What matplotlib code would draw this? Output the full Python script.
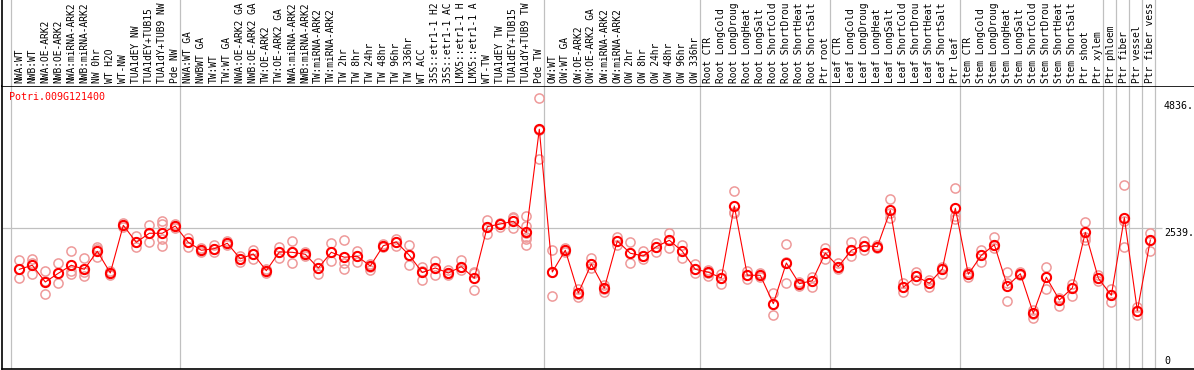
import matplotlib
matplotlib.use("Agg")
from matplotlib import pyplot as plt
import matplotlib.transforms as mtransforms

# sample labels, in plot order
labels = ["NWA:WT", "NWB:WT", "NWA:OE-ARK2", "NWB:OE-ARK2", "NWA:miRNA-ARK2", "NWB:miRNA-ARK2",
          "NW 0hr", "WT H2O", "WT-NW", "TUA1dEY NW", "TUA1dEY+TUB15 NW", "TUA1dY+TUB9 NW", "Pde NW",
          "NWA:WT GA", "NWBWT GA", "TW:WT", "TW:WT GA", "NWA:OE-ARK2 GA", "NWB:OE-ARK2 GA",
          "TW:OE-ARK2", "TW:OE-ARK2 GA", "NWA:miRNA-ARK2 GA", "NWB:miRNA-ARK2 GA", "TW:miRNA-ARK2",
          "TW:miRNA-ARK2", "TW 2hr", "TW 8hr", "TW 24hr", "TW 48hr", "TW 96hr", "TW 336hr", "WT ACC",
          "35S::etr1-1 H2O", "35S::etr1-1 ACC", "LMX5::etr1-1 H2O", "LMX5::etr1-1 ACC", "WT-TW",
          "TUA1dEY TW", "TUA1dEY+TUB15 TW", "TUA1dY+TUB9 TW", "Pde TW",
          "OW:WT", "OW:WT GA", "OW:OE-ARK2", "OW:OE-ARK2 GA", "OW:miRNA-ARK2", "OW:miRNA-ARK2",
          "OW 2hr", "OW 8hr", "OW 24hr", "OW 48hr", "OW 96hr", "OW 336hr",
          "Root CTR", "Root LongCold", "Root LongDrought", "Root LongHeat", "Root LongSalt",
          "Root ShortCold", "Root ShortDrought", "Root ShortHeat", "Root ShortSalt", "Ptr root",
          "Leaf CTR", "Leaf LongCold", "Leaf LongDrought", "Leaf LongHeat", "Leaf LongSalt",
          "Leaf ShortCold", "Leaf ShortDrought", "Leaf ShortHeat", "Leaf ShortSalt", "Ptr leaf",
          "Stem CTR", "Stem LongCold", "Stem LongDrought", "Stem LongHeat", "Stem LongSalt",
          "Stem ShortCold", "Stem ShortDrought", "Stem ShortHeat", "Stem ShortSalt", "Ptr shoot",
          "Ptr xylem", "Ptr phloem", "Ptr fiber", "Ptr vessel", "Ptr fiber vessel"]

# first index of every experiment group
group_starts = [0, 13, 41, 53, 63, 73, 84, 85, 86, 87]

means = [1808, 1879, 1583, 1737, 1879, 1808, 2127, 1743, 2587, 2286, 2446, 2446, 2575,
         2286, 2145, 2173, 2269, 1994, 2079, 1783, 2115, 2109, 2074, 1831, 2109, 2021, 2038,
         1867, 2226, 2292, 2056, 1752, 1831, 1743, 1854, 1649, 2563, 2610, 2658, 2460, 4288,
         1760, 2145, 1388, 1902, 1472, 2309, 2092, 2044, 2208, 2322, 2127, 1808,
         1757, 1654, 2929, 1702, 1702, 1199, 1920, 1553, 1606, 2097,
         1854, 2145, 2226, 2208, 2853, 1489, 1684, 1560, 1814, 2889,
         1720, 2056, 2244, 1512, 1730, 1029, 1667, 1264, 1477, 2463, 1649,
         1348, 2722, 1075, 2327]

reps = [[1968, 1808, 1659], [1985, 1925, 1725], [1778, 1601, 1365], [1914, 1737, 1566],
        [2132, 1783, 1725], [2003, 1760, 1695], [2208, 2162, 2031], [1778, 1743, 1707],
        [2628, 2587, 2557], [2398, 2286, 2198], [2593, 2446, 2286], [2664, 2605, 2339, 2221],
        [2602, 2575, 2548],
        [2357, 2286, 2208], [2185, 2145, 2106], [2239, 2173, 2115], [2301, 2269, 2239],
        [2044, 1991, 1937], [2150, 2079, 1985], [1822, 1783, 1743], [2208, 2115, 2014],
        [2309, 2109, 1914], [2106, 2074, 2044], [1914, 1831, 1725], [2269, 2109, 1955],
        [2322, 1925, 1808], [2138, 2038, 1943], [1902, 1854, 1796], [2256, 2226, 2194],
        [2350, 2292, 2221], [2233, 2056, 1879], [1849, 1778, 1619], [1955, 1831, 1702],
        [1792, 1743, 1699], [1968, 1854, 1796], [1766, 1737, 1436], [2681, 2563, 2428],
        [2634, 2610, 2552], [2740, 2711, 2534], [2752, 2575, 2446, 2386, 2345, 2233],
        [4836, 4270, 3756],
        [2150, 1760, 1330], [2177, 2145, 2115], [1454, 1371, 1312], [2003, 1902, 1826],
        [1530, 1454, 1406], [2386, 2309, 2239], [2286, 2092, 1920], [2132, 2044, 1985],
        [2269, 2208, 2120], [2456, 2327, 2185], [2244, 2127, 2003], [1897, 1808, 1737],
        [1796, 1748, 1690], [1725, 1654, 1553], [3190, 2828, 2800], [1783, 1702, 1631],
        [1748, 1702, 1667], [1383, 1199, 999], [2251, 1943, 1560], [1589, 1553, 1512],
        [1677, 1606, 1500], [2191, 2097, 1991],
        [1925, 1854, 1808], [2292, 2145, 2044], [2309, 2226, 2150], [2239, 2208, 2177],
        [3053, 2800, 2711], [1571, 1489, 1411], [1766, 1684, 1619], [1619, 1560, 1489],
        [1854, 1814, 1725], [3243, 2752, 2694],
        [1766, 1720, 1667], [2150, 2056, 1943], [2375, 2244, 2185], [1766, 1560, 1247],
        [1766, 1730, 1702], [1087, 1011, 940], [1854, 1667, 1454], [1305, 1264, 1158],
        [1548, 1477, 1341], [2641, 2386, 2327], [1707, 1649, 1601],
        [1454, 1348, 1234], [3301, 2667, 2198], [1146, 1075, 994], [2446, 2327, 2138]]

gene = "Potri.009G121400"
max_val = 4836
mid_val = 2539

W, H = 1194, 370
mono = "DejaVu Sans Mono"
grey = "#c0c0c0"
pink = "#ee9a9a"

fig = plt.figure(figsize=(W / 100, H / 100), dpi=100)
ax = fig.add_axes([1.5 / W, 1.5 / H, 1192 / W, 283 / H])
head = fig.add_axes([1.5 / W, 284.5 / H, 1192 / W, 85.5 / H], sharex=ax)

x = list(range(len(means)))
ax.set_xlim(-1.369, 90.32)
ax.set_ylim(51, 5063)
head.set_ylim(0, 1)

# group separators (through header and plot)
bounds = [g - 0.654 for g in group_starts] + [len(means) - 1 + 0.346]
for b in bounds:
    ax.axvline(b, color=grey, lw=0.9, zorder=1)
    head.axvline(b, color=grey, lw=0.9, zorder=1)
ax.hlines(mid_val, -1.369, 87.88, color=grey, lw=0.9, zorder=1)

# replicates
for i, r in enumerate(reps):
    ax.plot([i] * len(r), r, "o", ms=6.6, mfc="none", mec=pink, mew=1.1, zorder=2)

# means
ax.plot(x, means, "-", color="red", lw=0.8, zorder=3)
ax.plot(x, means, "o", ms=6.6, mfc="none", mec="red", mew=1.5, zorder=4)

for s in ["left", "bottom", "top"]:
    ax.spines[s].set_color("black")
    ax.spines[s].set_linewidth(1.2)
ax.spines["right"].set_visible(False)
for s in ["right", "bottom", "top"]:
    head.spines[s].set_visible(False)
head.spines["left"].set_linewidth(1.2)
ax.set_xticks([])
ax.set_yticks([])
head.set_xticks([])
head.set_yticks([])

# rotated sample labels, cut to the header height like the original
for i, lab in enumerate(labels):
    head.text(i, 0.03, lab[:14], rotation=90, ha="center", va="bottom",
              fontsize=6.9, family=mono, color="black")

# gene name and value labels
fig.text(9 / W, 1 - 92 / H, gene, color="red", fontsize=7.2, family=mono, va="top", ha="left")
tx = 88.05
ax.annotate(f"{max_val}.", (tx, max_val), xytext=(0, -3), textcoords="offset pixels",
            ha="left", va="top", fontsize=7.2, family=mono, annotation_clip=False)
ax.annotate(f"{mid_val}.", (tx, mid_val), xytext=(0, 0), textcoords="offset pixels",
            ha="left", va="top", fontsize=7.2, family=mono, annotation_clip=False)
trans = mtransforms.blended_transform_factory(ax.transData, ax.transAxes)
ax.text(tx, 0.01, "0", transform=trans, ha="left", va="bottom", fontsize=7.2, family=mono)

fig.savefig("out.png", dpi=100)
